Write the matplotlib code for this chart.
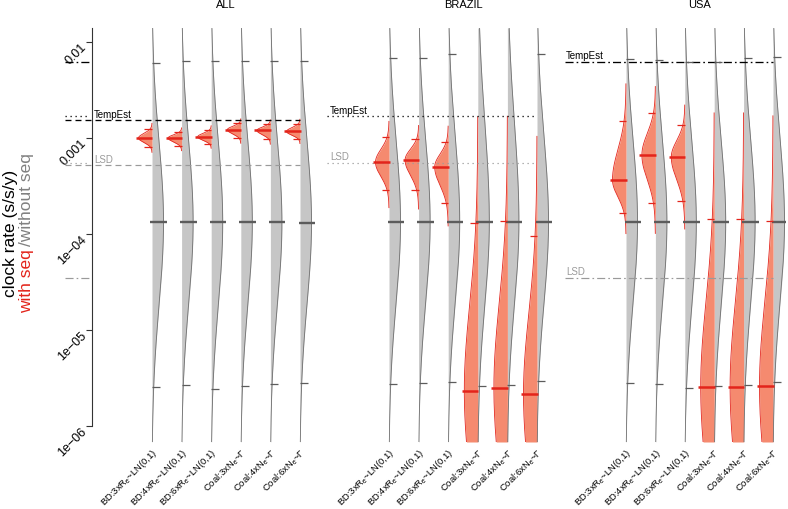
import numpy as np
import matplotlib
matplotlib.use('Agg')
import matplotlib.pyplot as plt
from matplotlib import transforms

plt.rcParams['font.family'] = ['Liberation Sans', 'DejaVu Sans']
plt.rcParams['mathtext.default'] = 'regular'
plt.rcParams['lines.scale_dashes'] = False

W, H = 788, 509

panels = ['ALL', 'BRAZIL', 'USA']
models = ['BD:3x$R_e$~LN(0,1)', 'BD:4x$R_e$~LN(0,1)', 'BD:6x$R_e$~LN(0,1)',
          'Coal:3x$N_e$~Γ', 'Coal:4x$N_e$~Γ', 'Coal:6x$N_e$~Γ']

# without seq (grey): median and 95% HPD
all_prior_med = [1.33e-4, 1.33e-4, 1.33e-4, 1.33e-4, 1.32e-4, 1.31e-4]
all_prior_lo = [2.55e-6, 2.67e-6, 2.43e-6, 2.61e-6, 2.74e-6, 2.8e-6]
all_prior_hi = [6.0e-3, 6.3e-3, 6.3e-3, 6.3e-3, 6.3e-3, 6.3e-3]
brazil_prior_med = [1.32e-4, 1.32e-4, 1.33e-4, 1.32e-4, 1.32e-4, 1.32e-4]
brazil_prior_lo = [2.74e-6, 2.8e-6, 2.87e-6, 2.61e-6, 2.67e-6, 2.94e-6]
brazil_prior_hi = [6.8e-3, 6.8e-3, 7.5e-3, 1.5e-2, 1.5e-2, 7.5e-3]
usa_prior_med = [1.33e-4, 1.32e-4, 1.32e-4, 1.33e-4, 1.34e-4, 1.33e-4]
usa_prior_lo = [2.8e-6, 2.74e-6, 2.49e-6, 2.61e-6, 2.67e-6, 2.87e-6]
usa_prior_hi = [6.65e-3, 6.5e-3, 6.2e-3, 6.2e-3, 6.8e-3, 6.97e-3]

# with seq (red): median and 95% HPD
all_post_med = [1.0e-3, 1.0e-3, 1.03e-3, 1.22e-3, 1.2e-3, 1.17e-3]
all_post_lo = [8.1e-4, 8.3e-4, 8.7e-4, 1.0e-3, 9.8e-4, 9.8e-4]
all_post_hi = [1.24e-3, 1.16e-3, 1.21e-3, 1.43e-3, 1.40e-3, 1.40e-3]
brazil_post_med = [5.6e-4, 5.9e-4, 5.0e-4, 2.32e-6, 2.5e-6, 2.16e-6]
brazil_post_lo = [2.87e-4, 2.87e-4, 2.1e-4, 4e-8, 4e-8, 4e-8]
brazil_post_hi = [1.02e-3, 9.8e-4, 9.1e-4, 1.3e-4, 1.35e-4, 9.5e-5]
usa_post_med = [3.65e-4, 6.65e-4, 6.34e-4, 2.55e-6, 2.55e-6, 2.6e-6]
usa_post_lo = [1.66e-4, 2.1e-4, 2.2e-4, 4e-8, 4e-8, 4e-8]
usa_post_hi = [1.5e-3, 1.82e-3, 1.36e-3, 1.43e-4, 1.43e-4, 1.38e-4]

tempest = [1.54e-3, 1.69e-3, 6.2e-3]
lsd = [5.23e-4, 5.5e-4, 3.48e-5]
line_styles = ['--', ':', '-.']

prior = [(all_prior_med, all_prior_lo, all_prior_hi),
         (brazil_prior_med, brazil_prior_lo, brazil_prior_hi),
         (usa_prior_med, usa_prior_lo, usa_prior_hi)]
post = [(all_post_med, all_post_lo, all_post_hi),
        (brazil_post_med, brazil_post_lo, brazil_post_hi),
        (usa_post_med, usa_post_lo, usa_post_hi)]

RED = '#e3241b'
REDFILL = '#f58a6f'
GREYFILL = '#c6c6c6'
GREYEDGE = '#707070'
GREYTICK = '#5c5c5c'
LSDCOL = '#9a9a9a'

dash = {'--': (0, (4.3, 2.9)), ':': (0, (0.9, 2.7)), '-.': (0, (5.8, 2.2, 1.2, 2.2))}

YLO, YHI = 6.8e-7, 1.4e-2
LOGLO, LOGHI = np.log10(YLO), np.log10(YHI)

first_px = [152, 389, 626]
step_px = [29.6, 29.6, 29.4]
xlims = [(-2.0, 6.6), (-1.15, 6.6), (-1.12, 6.45)]
label_x = [-0.96, -0.99, -1.04]
line_x0 = [-1.94, -1.1, -1.07]

fig = plt.figure(figsize=(W / 100, H / 100), dpi=100)
xs = np.arange(1, 7)


def half_violin(ax, x, med, lo, hi, side, wmax, fill, edge):
    lm, ll, lh = np.log10(med), np.log10(lo), np.log10(hi)
    s_lo = (lm - ll) / 1.96
    s_hi = (lh - lm) / 1.96
    v = np.linspace(max(lm - 3.2 * s_lo, LOGLO), min(lm + 3.2 * s_hi, LOGHI), 400)
    s = np.where(v < lm, s_lo, s_hi)
    w = wmax * np.exp(-0.5 * ((v - lm) / s) ** 2)
    y = 10 ** v
    ax.fill_betweenx(y, x, x + side * w, color=fill, lw=0, zorder=2)
    ax.plot(x + side * w, y, color=edge, lw=0.6, zorder=3)


def hline(ax, x, val, a, b, color, lw):
    ax.plot([x + a, x + b], [val, val], color=color, lw=lw,
            solid_capstyle='butt', zorder=6)


axes = []
for p in range(3):
    step = step_px[p]
    x0, x1 = xlims[p]
    left = first_px[p] - (1 - x0) * step
    ax = fig.add_axes([left / W, (H - 442) / H, (x1 - x0) * step / W, 414 / H])
    ax.patch.set_visible(False)
    ax.set_yscale('log')
    ax.set_xlim(x0, x1)
    ax.set_ylim(YLO, YHI)
    axes.append(ax)

    pm, pl, ph = prior[p]
    qm, ql, qh = post[p]
    for i, x in enumerate(xs):
        half_violin(ax, x, pm[i], pl[i], ph[i], 1, 11.5 / step, GREYFILL, GREYEDGE)
        half_violin(ax, x, qm[i], ql[i], qh[i], -1, 13.5 / step, REDFILL, RED)
        hline(ax, x, pm[i], -1.5 / step, 15 / step, GREYTICK, 1.7)
        hline(ax, x, pl[i], 0, 8 / step, GREYTICK, 0.9)
        hline(ax, x, ph[i], 0, 8 / step, GREYTICK, 0.9)
        hline(ax, x, qm[i], -16 / step, 0.5 / step, RED, 1.8)
        hline(ax, x, ql[i], -7.5 / step, 0, RED, 0.9)
        hline(ax, x, qh[i], -7.5 / step, 0, RED, 0.9)

    # reference lines
    ax.plot([line_x0[p], 6], [tempest[p]] * 2, color='black', lw=0.95,
            ls=dash[line_styles[p]], zorder=4)
    ax.plot([line_x0[p], 6], [lsd[p]] * 2, color=LSDCOL, lw=0.85,
            ls=dash[line_styles[p]], zorder=4)
    up = transforms.ScaledTranslation(0, 0.025, fig.dpi_scale_trans)
    ax.text(label_x[p], tempest[p], 'TempEst', fontsize=7, color='black',
            ha='left', va='baseline', transform=ax.transData + up)
    ax.text(label_x[p], lsd[p], 'LSD', fontsize=7, color=LSDCOL,
            ha='left', va='baseline', transform=ax.transData + up)

    # category labels
    tr = transforms.blended_transform_factory(ax.transData, ax.transAxes) + \
        transforms.ScaledTranslation(4 / 100, -9 / 100, fig.dpi_scale_trans)
    for i, x in enumerate(xs):
        ax.text(x, 0, models[i], fontsize=6.8, rotation=45, rotation_mode='anchor',
                ha='right', va='center', transform=tr)

    ax.set_xticks([])
    for sp in ['top', 'right', 'bottom', 'left']:
        ax.spines[sp].set_visible(False)
    ax.yaxis.set_minor_locator(matplotlib.ticker.NullLocator())

    cx = (first_px[p] + first_px[p] + 5 * step) / 2
    fig.text(cx / W, 1 - 5 / H, panels[p], fontsize=8, ha='center', va='center')

# y axis on the first panel
ax = axes[0]
spine_x = 1 - 60 / step_px[0]
ax.spines['left'].set_visible(True)
ax.spines['left'].set_position(('data', spine_x))
ax.spines['left'].set_bounds(1e-6, YHI)
ax.spines['left'].set_linewidth(0.8)
ax.spines['left'].set_color('#333333')
yt = [1e-2, 1e-3, 1e-4, 1e-5, 1e-6]
ytl = ['0.01', '0.001', '1e\u221204', '1e\u221205', '1e\u221206']
ax.set_yticks(yt)
ax.set_yticklabels([])
ax.tick_params(axis='y', direction='out', length=4, width=0.8, color='#333333')
for axx in axes[1:]:
    axx.set_yticks([])
tr = ax.transData + transforms.ScaledTranslation(-7 / 100, -4 / 100, fig.dpi_scale_trans)
for v, s in zip(yt, ytl):
    ax.text(spine_x, v, s, fontsize=9, rotation=45, rotation_mode='anchor',
            ha='right', va='center', transform=tr)

# stubs of the other panels' lines left of the axis
for p in (1, 2):
    ax.plot([-1.94, -1.1], [tempest[p]] * 2, color='black', lw=0.95,
            ls=dash[line_styles[p]], zorder=4)
    ax.plot([-1.94, -1.1], [lsd[p]] * 2, color=LSDCOL, lw=0.85,
            ls=dash[line_styles[p]], zorder=4)

# y label, two lines, second one in two colours
fig.text(14.5 / W, 1 - 297 / H, 'clock rate (s/s/y)', fontsize=12.5, rotation=90,
         rotation_mode='anchor', ha='left', va='baseline')
r = fig.canvas.get_renderer()
t1 = fig.text(31 / W, 1 - 313 / H, 'with seq', fontsize=12.5, rotation=90, color=RED,
              rotation_mode='anchor', ha='left', va='baseline')
bb = t1.get_window_extent(r)
fig.text(31 / W, (bb.y1 + 3) / H, '/without seq', fontsize=12.5, rotation=90,
         color='#808080', rotation_mode='anchor', ha='left', va='baseline')

fig.savefig('out.png', dpi=100)
